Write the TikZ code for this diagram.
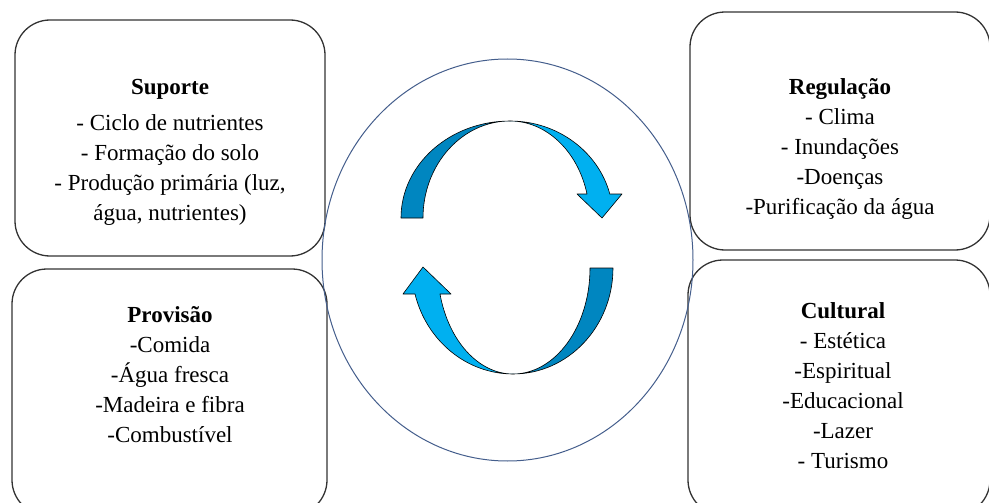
\documentclass[tikz,border=0pt]{standalone}
\usepackage{fontspec}
\setmainfont{Liberation Serif}
\usetikzlibrary{positioning}
\definecolor{arrowdark}{RGB}{0,134,192}
\definecolor{arrowlight}{RGB}{0,176,240}
\definecolor{ringblue}{RGB}{68,94,140}
\definecolor{boxline}{RGB}{51,51,51}

\begin{document}
\begin{tikzpicture}[x=1pt,y=1pt,yscale=-1,xscale=1,
  servbox/.style={draw=boxline,line width=1.3pt,rounded corners=35pt,inner sep=0pt},
  servtext/.style={align=center,inner sep=0pt,font=\fontsize{23}{30}\selectfont,anchor=base},
  ribbon/.style={draw=black,line width=0.6pt,line join=round}]
\useasboundingbox (0,0) rectangle (989,503);
\clip (0,0) rectangle (989,503);

%Shape: Rounded Rect [suporte]
\node [servbox,minimum width=310pt,minimum height=236pt] (suporte) at (170,138) {};
%Shape: Rounded Rect [regulacao]
\node [servbox,minimum width=300pt,minimum height=238pt] (regulacao) at (840,131) {};
%Shape: Rounded Rect [provisao]
\node [servbox,minimum width=315pt,minimum height=246pt] (provisao) at (169.5,392) {};
%Shape: Rounded Rect [cultural]
\node [servbox,minimum width=302pt,minimum height=255pt] (cultural) at (839,387.5) {};

%Shape: Ellipse
\draw [ringblue,line width=1pt] (507.5,260) ellipse [x radius=185.5,y radius=201];

%Shape: Curved Arrow (top)
\draw [ribbon,fill=arrowdark] (510,121) .. controls (449.8,121) and (401,164.5) .. (401,218) -- (423,218) .. controls (423,164.5) and (462,121) .. (510,121) -- cycle;
\draw [ribbon,fill=arrowlight] (510,121) .. controls (557,121) and (598.2,151.2) .. (609.8,194) -- (622,194) -- (602,218) -- (577,194) -- (587,194) .. controls (578,151.2) and (546.3,121) .. (510,121) -- cycle;
%Shape: Curved Arrow (bottom)
\draw [ribbon,fill=arrowdark] (613,268) .. controls (613,326.5) and (568.2,374) .. (513,374) .. controls (555.5,374) and (590,326.5) .. (590,268) -- cycle;
\draw [ribbon,fill=arrowlight] (513,374) .. controls (466.9,374) and (426.5,341) .. (415,294) -- (403,294) -- (423,267) -- (451,294) -- (440,294) .. controls (448.5,341) and (478.6,374) .. (513,374) -- cycle;

% Text Node
\node [servtext] (suporteTxt) at (170,220) {\textbf{Suporte}\\[6pt]- Ciclo de nutrientes\\- Formação do solo\\- Produção primária (luz,\\água, nutrientes)};
% Text Node
\node [servtext] (regulacaoTxt) at (840,214) {\textbf{Regulação}\\- Clima\\- Inundações\\-Doenças\\-Purificação da água};
% Text Node
\node [servtext] (provisaoTxt) at (170,442) {\textbf{Provisão}\\-Comida\\-Água fresca\\-Madeira e fibra\\-Combustível};
% Text Node
\node [servtext] (culturalTxt) at (843,468) {\textbf{Cultural}\\- Estética\\-Espiritual\\-Educacional\\-Lazer\\- Turismo};

\end{tikzpicture}
\end{document}
